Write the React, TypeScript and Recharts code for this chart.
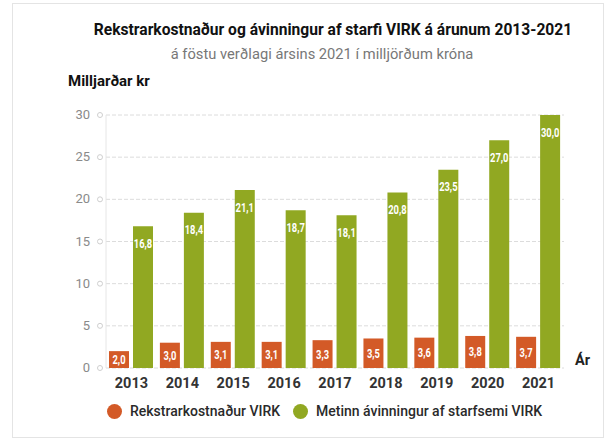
import {BarChart, Bar, XAxis, YAxis, CartesianGrid, LabelList} from 'recharts';

const years = ['2013', '2014', '2015', '2016', '2017', '2018', '2019', '2020', '2021'];
const kostnadur = [2.0, 3.0, 3.1, 3.1, 3.3, 3.5, 3.6, 3.8, 3.7];
const avinningur = [16.8, 18.4, 21.1, 18.7, 18.1, 20.8, 23.5, 27.0, 30.0];
const yTicks = [0, 5, 10, 15, 20, 25, 30];

const ORANGE = '#d35a27';
const GREEN = '#91a822';
const FONT = 'Roboto, "Liberation Sans", sans-serif';

const data = years.map((y, i) => ({ar: y, kostnadur: kostnadur[i], avinningur: avinningur[i]}));

const fmt = (v: any) => Number(v).toFixed(1).replace('.', ',');

function YTick(props: any) {
	const {x, y, payload} = props;
	return (
		<g>
			<text x={x - 8} y={y} dy={4} textAnchor="end" fontSize={13} fill="#8a8a8a" fontFamily={FONT}>
				{payload.value}
			</text>
			<circle cx={x + 2} cy={y} r={2.5} fill="#fff" stroke="#cfcfcf" />
		</g>
	);
}

// narrow white value label, squeezed horizontally
function makeLabel(top: boolean) {
	return function ValueLabel(props: any) {
		const {x, y, width, height, value} = props;
		const cx = x + width / 2;
		const cy = top ? y + 17 : y + height / 2;
		return (
			<text
				transform={`translate(${cx},${cy}) scale(0.72,1)`}
				textAnchor="middle"
				dy={4.5}
				fontSize={13}
				fontWeight={700}
				fill="#fff"
				fontFamily={FONT}
			>
				{fmt(value)}
			</text>
		);
	};
}

const legendItems = [
	{label: 'Rekstrarkostnaður VIRK', color: ORANGE, left: 107},
	{label: 'Metinn ávinningur af starfsemi VIRK', color: GREEN, left: 293},
];

export default function App() {
	return (
		<div style={{position: 'absolute', left: 0, top: 0, width: 608, height: 439, background: '#fff', fontFamily: FONT}}>
			<div style={{position: 'absolute', left: 12, top: 3, width: 590, height: 433, border: '1px solid #e4e4e4'}} />
			<div style={{position: 'absolute', left: 0, width: 666, top: 21, textAlign: 'center', fontSize: 15.6, fontWeight: 700, color: '#111'}}>
				Rekstrarkostnaður og ávinningur af starfi VIRK á árunum 2013-2021
			</div>
			<div style={{position: 'absolute', left: 0, width: 644, top: 45, textAlign: 'center', fontSize: 14.7, color: '#777'}}>
				á föstu verðlagi ársins 2021 í milljörðum króna
			</div>
			<div style={{position: 'absolute', left: 68, top: 72, fontSize: 15, fontWeight: 700, color: '#111'}}>Milljarðar kr</div>
			<div style={{position: 'absolute', left: 575, top: 352, fontSize: 14.5, fontWeight: 700, color: '#222'}}>Ár</div>
			<BarChart
				width={608}
				height={439}
				data={data}
				margin={{top: 115, right: 44, left: 0, bottom: 46}}
				barSize={20}
				barGap={4}
				style={{position: 'absolute', left: 0, top: 0}}
			>
				<CartesianGrid vertical={false} stroke="#dcdcdc" strokeDasharray="4 2" />
				<XAxis
					dataKey="ar"
					axisLine={false}
					tickLine={false}
					height={25}
					tick={{fontSize: 14.5, fontWeight: 700, fill: '#333', fontFamily: FONT}}
					tickMargin={4}
				/>
				<YAxis
					width={106}
					domain={[0, 30]}
					ticks={yTicks}
					axisLine={{stroke: '#e6e6e6'}}
					tickLine={false}
					tick={<YTick />}
				/>
				<Bar dataKey="kostnadur" fill={ORANGE} isAnimationActive={false}>
					<LabelList dataKey="kostnadur" content={makeLabel(false)} />
				</Bar>
				<Bar dataKey="avinningur" fill={GREEN} isAnimationActive={false}>
					<LabelList dataKey="avinningur" content={makeLabel(true)} />
				</Bar>
			</BarChart>
			{legendItems.map((it) => (
				<div
					key={it.label}
					style={{position: 'absolute', left: it.left, top: 403, display: 'flex', alignItems: 'center', gap: 8, fontSize: 14, fontWeight: 500, color: '#2a2a2a'}}
				>
					<span style={{width: 15, height: 15, borderRadius: 8, background: it.color, display: 'inline-block'}} />
					<span>{it.label}</span>
				</div>
			))}
		</div>
	);
}
